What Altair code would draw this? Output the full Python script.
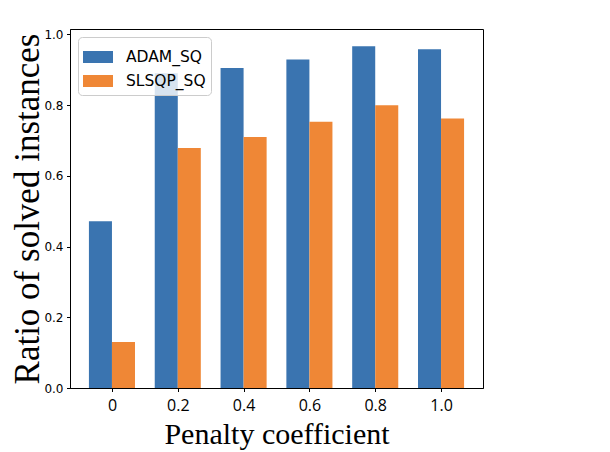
import altair as alt
import pandas as pd

penalty = [0, 0.2, 0.4, 0.6, 0.8, 1.0]
tick_labels = ["0", "0.2", "0.4", "0.6", "0.8", "1.0"]
adam_sq = [0.472, 0.890, 0.905, 0.929, 0.967, 0.958]
slsqp_sq = [0.130, 0.679, 0.710, 0.753, 0.800, 0.762]
series = ["ADAM_SQ", "SLSQP_SQ"]
colors = ["#3a74b0", "#ef8736"]

rows = []
for p, a, s in zip(penalty, adam_sq, slsqp_sq):
    rows.append({"penalty": p, "method": series[0], "ratio": a})
    rows.append({"penalty": p, "method": series[1], "ratio": s})
df = pd.DataFrame(rows)

bar_w = 0.07  # 0.35 of the 0.2 category spacing

label_expr = "datum.value == 0 ? '0' : format(datum.value, '.1f')"

chart = (
    alt.Chart(df)
    .transform_calculate(
        x0=f"datum.method == '{series[0]}' ? datum.penalty - {bar_w} : datum.penalty",
        x1=f"datum.method == '{series[0]}' ? datum.penalty : datum.penalty + {bar_w}",
    )
    .mark_bar()
    .encode(
        x=alt.X(
            "x0:Q",
            scale=alt.Scale(domain=[-0.1275, 1.1275], nice=False, zero=False),
            axis=alt.Axis(
                values=penalty,
                labelExpr=label_expr,
                title="Penalty coefficient",
                titleFont="Liberation Serif",
                titleFontSize=30,
                titleFontWeight="normal",
                titleBaseline="alphabetic",
                titleY=55,
                labelFont="Open Sans",
                labelFontSize=16,
                labelColor="black",
                labelPadding=6,
                tickColor="black",
                tickSize=3.5,
                domainColor="black",
                grid=False,
            ),
        ),
        x2="x1:Q",
        y=alt.Y(
            "ratio:Q",
            scale=alt.Scale(domain=[0, 1.0155], nice=False),
            axis=alt.Axis(
                values=[0, 0.2, 0.4, 0.6, 0.8, 1.0],
                format=".1f",
                title="Ratio of solved instances",
                titleFont="Liberation Serif",
                titleFontSize=35,
                titleFontWeight="normal",
                titleAngle=-90,
                titleBaseline="alphabetic",
                titleX=-32,
                labelFont="DejaVu Sans",
                labelFontSize=12,
                labelColor="black",
                labelPadding=3.5,
                tickColor="black",
                tickSize=3.5,
                domainColor="black",
                grid=False,
            ),
        ),
        y2=alt.datum(0),
        color=alt.Color(
            "method:N",
            scale=alt.Scale(domain=series, range=colors),
            legend=alt.Legend(
                title=None,
                orient="none",
                legendX=8,
                legendY=8,
                fillColor="rgba(255,255,255,0.8)",
                strokeColor="#cccccc",
                cornerRadius=4,
                padding=5,
                symbolType="M-1,-0.4H1V0.4H-1Z",
                symbolSize=900,
                symbolStrokeWidth=0,
                symbolOpacity=1,
                labelFont="DejaVu Sans",
                labelFontSize=15.5,
                labelColor="black",
                labelOffset=13,
                rowPadding=-4,
            ),
        ),
    )
    .properties(
        width=413,
        height=359,
        autosize=alt.AutoSizeParams(type="none"),
        padding={"left": 62, "top": 21, "right": 10, "bottom": 64},
    )
    .configure_view(stroke="black", strokeWidth=1)
    .configure_axis(domainWidth=1, tickWidth=1)
)

chart.save("out.html", embed_options={"renderer": "svg", "actions": False})
